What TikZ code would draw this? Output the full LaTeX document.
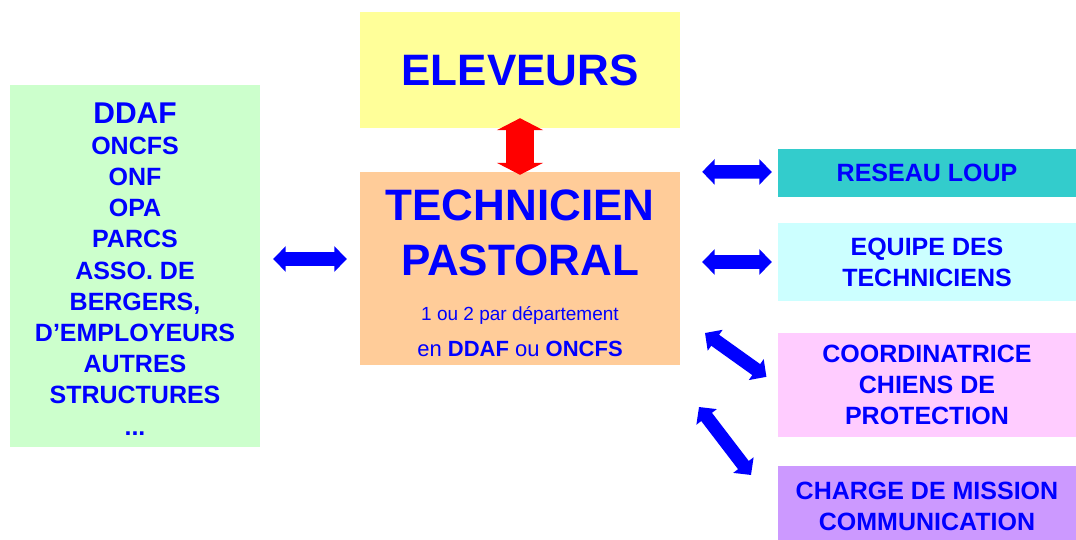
\documentclass[tikz,border=0pt]{standalone}
\usepackage{fontspec}
\setmainfont{Liberation Sans}
\usetikzlibrary{arrows.meta}
\usetikzlibrary{calc}

\definecolor{boxgreen}{HTML}{CCFFCC}
\definecolor{boxyellow}{HTML}{FFFF99}
\definecolor{boxpeach}{HTML}{FFCC99}
\definecolor{boxteal}{HTML}{33CCCC}
\definecolor{boxcyan}{HTML}{CCFFFF}
\definecolor{boxpink}{HTML}{FFCCFF}
\definecolor{boxviolet}{HTML}{CC99FF}

\tikzset{
    box/.style={rectangle, inner sep=0pt, align=center, text=blue, font=\bfseries\fontsize{25}{31.2}\selectfont},
    linkarrow/.style={draw=blue, line width=13.5pt, {Triangle[width=25pt,length=12.5pt]}-{Triangle[width=25pt,length=12.5pt]}},
    mainarrow/.style={draw=red, line width=28pt, {Triangle[width=46pt,length=12pt]}-{Triangle[width=46pt,length=12pt]},
        preaction={draw=white, line width=32pt, {Triangle[width=52pt,length=15pt]}-{Triangle[width=52pt,length=15pt]}, shorten <=-2pt, shorten >=-2pt}}
}

\begin{document}
\begin{tikzpicture}[x=1pt, y=-1pt]

    \useasboundingbox (0,0) rectangle (1076,540);

    % Draw boxes
    \node [box, fill=boxgreen, minimum width=250pt, minimum height=362pt] (ddaf) at (135,266)
        {\rule{0pt}{26pt}{\fontsize{30}{31}\selectfont DDAF}\\ONCFS\\ONF\\OPA\\PARCS\\ASSO. DE\\BERGERS,\\D’EMPLOYEURS\\AUTRES\\STRUCTURES\\...};
    \node [box, fill=boxyellow, minimum width=320pt, minimum height=116pt, font=\bfseries\fontsize{44}{53}\selectfont] (elev) at (520,70) {ELEVEURS};
    \node [box, fill=boxpeach, minimum width=320pt, minimum height=193pt, font=\bfseries\fontsize{44}{55}\selectfont] (tech) at (520,268.5)
        {\rule{0pt}{41pt}TECHNICIEN\\PASTORAL\\[-10pt]{\mdseries\fontsize{19}{20}\selectfont 1 ou 2 par département}\\[-19pt]{\mdseries\fontsize{22}{24}\selectfont en \textbf{DDAF} ou \textbf{ONCFS}}};
    \node [box, fill=boxteal, minimum width=298pt, minimum height=48pt] (reseau) at (927,173) {RESEAU LOUP};
    \node [box, fill=boxcyan, minimum width=298pt, minimum height=78pt] (equipe) at (927,262) {EQUIPE DES\\TECHNICIENS};
    \node [box, fill=boxpink, minimum width=298pt, minimum height=104pt] (coord) at (927,385) {COORDINATRICE\\CHIENS DE\\PROTECTION};
    \node [box, fill=boxviolet, minimum width=298pt, minimum height=80pt] (charge) at (927,506) {CHARGE DE MISSION\\COMMUNICATION};

    % Draw arrow ends
    \coordinate (c1) at (705,333);
    \coordinate (c2) at (699,407);
    \coordinate (c3) at (751,475);

    % Draw arrows
    \draw [mainarrow, shorten <=-10pt, shorten >=-3pt] (elev.south) -- (tech.north);
    \draw [linkarrow, shorten <=13pt, shorten >=13pt] ([yshift=7pt]ddaf.east) -- ([yshift=9.5pt]tech.west);
    \draw [linkarrow, shorten <=22pt, shorten >=6pt] (tech.north east) -- ([yshift=1pt]reseau.west);
    \draw [linkarrow, shorten <=22pt, shorten >=6pt] (tech.east |- equipe.west) -- (equipe.west);
    \draw [linkarrow, shorten >=14pt] (c1) -- (coord.west);
    \draw [linkarrow] (c2) -- (c3);

\end{tikzpicture}
\end{document}
